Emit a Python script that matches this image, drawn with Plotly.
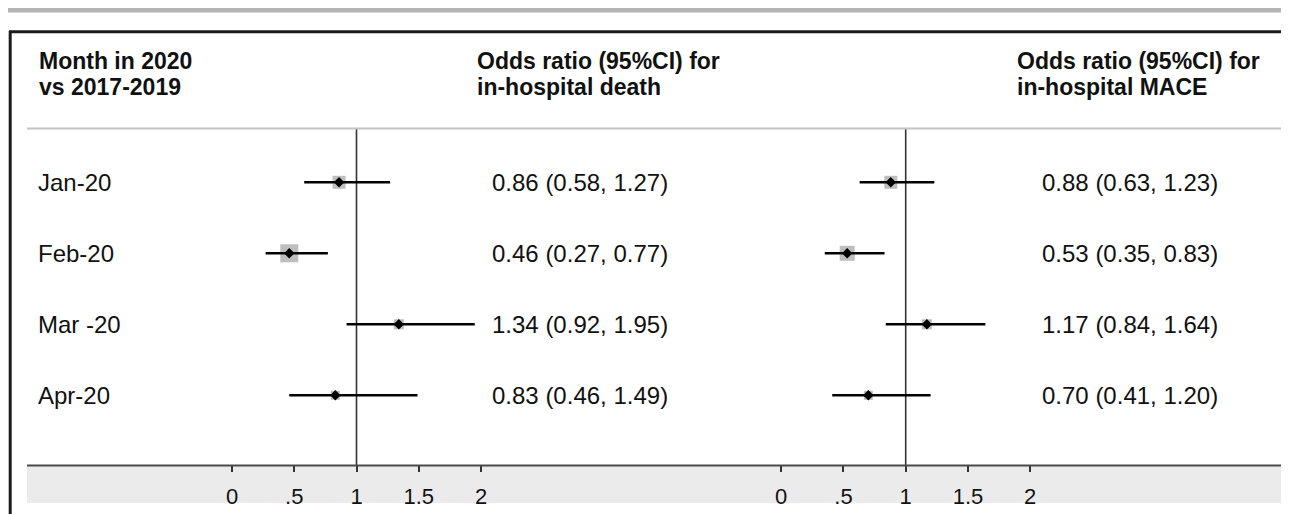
import plotly.graph_objects as go

# ---- data ----
months = ["Jan-20", "Feb-20", "Mar -20", "Apr-20"]
death_or = [0.86, 0.46, 1.34, 0.83]
death_lo = [0.58, 0.27, 0.92, 0.46]
death_hi = [1.27, 0.77, 1.95, 1.49]
death_weight = [13, 18, 10, 9]
mace_or = [0.88, 0.53, 1.17, 0.70]
mace_lo = [0.63, 0.35, 0.84, 0.41]
mace_hi = [1.23, 0.83, 1.64, 1.20]
mace_weight = [13, 15, 10, 9]
tick_vals = [0, 0.5, 1, 1.5, 2]
tick_text = ["0", ".5", "1", "1.5", "2"]

# page is 1289x514; the html body has an 8px margin, so the figure is
# placed at (8, 8) and sized to fill the rest of the window.
OFF = 8
PAGE_W, PAGE_H = 1289, 514
W, H = PAGE_W - OFF, PAGE_H - OFF
FONT = "Liberation Sans, Arial, sans-serif"


def px(x):
    return (x - OFF) / W


def py(y):
    return 1 - (y - OFF) / H


rows = list(range(len(months)))

fig = go.Figure()

panels = [
    ("x", death_or, death_lo, death_hi, death_weight),
    ("x2", mace_or, mace_lo, mace_hi, mace_weight),
]
for xa, est, lo, hi, wt in panels:
    fig.add_trace(go.Scatter(
        x=est, y=rows, xaxis=xa, yaxis="y", mode="markers",
        marker=dict(symbol="square", size=wt, color="#a3a3a3", line=dict(width=0)),
        hoverinfo="skip", showlegend=False))
    fig.add_trace(go.Scatter(
        x=est, y=rows, xaxis=xa, yaxis="y", mode="markers",
        marker=dict(symbol="diamond", size=8, color="#000000"),
        error_x=dict(type="data", symmetric=False,
                     array=[h - e for h, e in zip(hi, est)],
                     arrayminus=[e - l for e, l in zip(est, lo)],
                     color="#000000", thickness=2.6, width=0),
        showlegend=False))

# axes geometry (page pixels)
u = 124.5
zero_l, zero_r = 232.0, 781.2
dom_l = (27, 640)
dom_r = (640, PAGE_W)
y_top, y_bot = 129, 465
row0, row_step = 182.3, 71.0

axis_common = dict(
    tickvals=tick_vals, ticktext=tick_text, ticks="outside", ticklen=6,
    tickwidth=1.5, tickcolor="#333333", showgrid=False, zeroline=False,
    showline=False, tickfont=dict(family=FONT, size=22, color="#111111"),
    ticklabelstandoff=6, fixedrange=True,
)
fig.update_layout(
    xaxis=dict(domain=[px(dom_l[0]), px(dom_l[1])],
               range=[(dom_l[0] - zero_l) / u, (dom_l[1] - zero_l) / u],
               anchor="y", **axis_common),
    xaxis2=dict(domain=[px(dom_r[0]), px(dom_r[1])],
                range=[(dom_r[0] - zero_r) / u, (dom_r[1] - zero_r) / u],
                anchor="y", **axis_common),
    yaxis=dict(domain=[py(y_bot), py(y_top)],
               range=[(y_bot - row0) / row_step, (y_top - row0) / row_step],
               showticklabels=False, ticks="", showgrid=False, zeroline=False,
               showline=False, fixedrange=True),
)

shapes = []
# top gray strip
shapes.append(dict(type="rect", xref="paper", yref="paper",
                   x0=px(8), x1=1, y0=py(12.5), y1=py(6.5),
                   fillcolor="#b4b4b4", line=dict(width=0), layer="below"))
# frame top & left
shapes.append(dict(type="line", xref="paper", yref="paper",
                   x0=px(9), x1=1, y0=py(31.8), y1=py(31.8),
                   line=dict(color="#1a1a1a", width=3)))
shapes.append(dict(type="line", xref="paper", yref="paper",
                   x0=px(10.2), x1=px(10.2), y0=py(31), y1=0,
                   line=dict(color="#1a1a1a", width=3)))
# header separator
shapes.append(dict(type="line", xref="paper", yref="paper",
                   x0=px(27), x1=1, y0=py(128.5), y1=py(128.5),
                   line=dict(color="#c4c4c4", width=2)))
# bottom gray band
shapes.append(dict(type="rect", xref="paper", yref="paper",
                   x0=px(27), x1=1, y0=py(503), y1=py(465),
                   fillcolor="#ebebeb", line=dict(width=0), layer="below"))
# axis line
shapes.append(dict(type="line", xref="paper", yref="paper",
                   x0=px(27), x1=1, y0=py(465.5), y1=py(465.5),
                   line=dict(color="#4a4a4a", width=2.2)))
# reference lines at OR = 1
for xr in ["x", "x2"]:
    shapes.append(dict(type="line", xref=xr, yref="y domain",
                       x0=1, x1=1, y0=0, y1=1,
                       line=dict(color="#333333", width=1.6), layer="below"))
fig.update_layout(shapes=shapes)

ann = []
hdr_font = dict(family=FONT, size=23, color="#111111")
headers = [
    (37, ["<b>Month in 2020</b>", "<b>vs 2017-2019</b>"]),
    (475, ["<b>Odds ratio (95%CI) for</b>", "<b>in-hospital death</b>"]),
    (1015, ["<b>Odds ratio (95%CI) for</b>", "<b>in-hospital MACE</b>"]),
]
for x0, lines in headers:
    for i, t in enumerate(lines):
        ann.append(dict(text=t, xref="paper", yref="paper", x=px(x0), y=py(61 + 26 * i),
                        xanchor="left", yanchor="middle", showarrow=False, font=hdr_font))

body_font = dict(family=FONT, size=24, color="#111111")
for i, m in enumerate(months):
    ann.append(dict(text=m, xref="paper", yref="y", x=px(36), y=i,
                    xanchor="left", yanchor="middle", showarrow=False, font=body_font))
    ann.append(dict(text=f"{death_or[i]:.2f} ({death_lo[i]:.2f}, {death_hi[i]:.2f})",
                    xref="paper", yref="y", x=px(490), y=i,
                    xanchor="left", yanchor="middle", showarrow=False, font=body_font))
    ann.append(dict(text=f"{mace_or[i]:.2f} ({mace_lo[i]:.2f}, {mace_hi[i]:.2f})",
                    xref="paper", yref="y", x=px(1040), y=i,
                    xanchor="left", yanchor="middle", showarrow=False, font=body_font))
fig.update_layout(annotations=ann)

fig.update_layout(
    width=W, height=H, margin=dict(l=0, r=0, t=0, b=0),
    paper_bgcolor="white", plot_bgcolor="rgba(0,0,0,0)",
    showlegend=False, font=dict(family=FONT),
)

fig.write_html("out.html")
